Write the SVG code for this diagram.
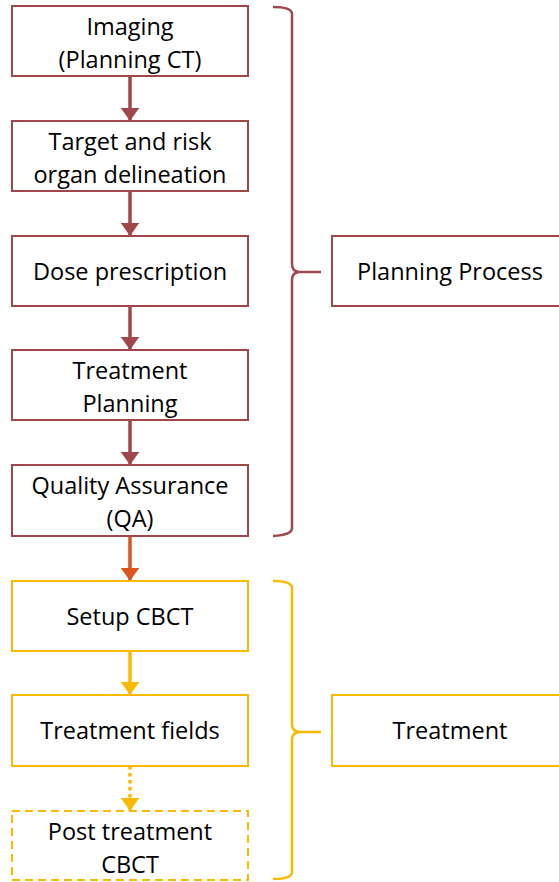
<svg xmlns="http://www.w3.org/2000/svg" width="559" height="882" viewBox="0 0 559 882">
<style>
.box{fill:#fff;stroke-width:2}
.r{stroke:#A0474C}
.y{stroke:#FBBA00}
.t{font-family:"Open Sans","Liberation Sans",sans-serif;font-size:23.5px;fill:#000;text-anchor:middle}
.c{fill:none;stroke-width:3.5}
.br{fill:none;stroke-width:2.5}
</style>
<defs>
<marker id="ar" viewBox="0 0 10 14" refX="10" refY="7" markerWidth="3.7" markerHeight="5.4" orient="auto" markerUnits="strokeWidth"><path d="M0,0L10,7L0,14z" fill="#A0474C"/></marker>
<marker id="ao" viewBox="0 0 10 14" refX="10" refY="7" markerWidth="3.7" markerHeight="5.4" orient="auto" markerUnits="strokeWidth"><path d="M0,0L10,7L0,14z" fill="#DA541E"/></marker>
<marker id="ay" viewBox="0 0 10 14" refX="10" refY="7" markerWidth="3.7" markerHeight="5.4" orient="auto" markerUnits="strokeWidth"><path d="M0,0L10,7L0,14z" fill="#FBBA00"/></marker>
</defs>
<g id="connectors">
<path class="c" stroke="#A0474C" d="M130,77V121" marker-end="url(#ar)"/>
<path class="c" stroke="#A0474C" d="M130,192V236" marker-end="url(#ar)"/>
<path class="c" stroke="#A0474C" d="M130,306V350" marker-end="url(#ar)"/>
<path class="c" stroke="#A0474C" d="M130,421V465" marker-end="url(#ar)"/>
<path class="c" stroke="#DA541E" d="M130,536V581" marker-end="url(#ao)"/>
<path class="c" stroke="#FBBA00" d="M130,651V695" marker-end="url(#ay)"/>
<path class="c" stroke="#FBBA00" stroke-dasharray="3.5 3.5" d="M130,766V811" marker-end="url(#ay)"/>
</g>
<g id="brace-planning">
<path class="br r" d="M273,7Q292,7 292,14V264Q292,272 300,272H321M300,272Q292,272 292,280V528Q292,535 273,536"/>
</g>
<g id="brace-treatment">
<path class="br y" d="M273,581Q292,581 292,588V724Q292,732 300,732H321M300,732Q292,732 292,740V872Q292,879 273,879"/>
</g>
<g id="n1"><rect class="box r" x="12" y="6" width="236" height="70"/><text class="t" x="130" y="35">Imaging</text><text class="t" x="130" y="68">(Planning CT)</text></g>
<g id="n2"><rect class="box r" x="12" y="121" width="236" height="70"/><text class="t" x="130" y="150">Target and risk</text><text class="t" x="130" y="183">organ delineation</text></g>
<g id="n3"><rect class="box r" x="12" y="236" width="236" height="70"/><text class="t" x="130" y="280">Dose prescription</text></g>
<g id="n4"><rect class="box r" x="12" y="350" width="236" height="70"/><text class="t" x="130" y="379">Treatment</text><text class="t" x="130" y="412">Planning</text></g>
<g id="n5"><rect class="box r" x="12" y="465" width="236" height="71"/><text class="t" x="130" y="494">Quality Assurance</text><text class="t" x="130" y="527">(QA)</text></g>
<g id="n6"><rect class="box y" x="12" y="581" width="236" height="70"/><text class="t" x="130" y="625">Setup CBCT</text></g>
<g id="n7"><rect class="box y" x="12" y="695" width="236" height="71"/><text class="t" x="130" y="739">Treatment fields</text></g>
<g id="n8"><rect class="box y" stroke-dasharray="8 5" x="12" y="811" width="236" height="69"/><text class="t" x="130" y="840">Post treatment</text><text class="t" x="130" y="873">CBCT</text></g>
<g id="planning-process"><rect class="box r" x="332" y="236" width="240" height="70"/><text class="t" x="450" y="280">Planning Process</text></g>
<g id="treatment"><rect class="box y" x="332" y="695" width="240" height="71"/><text class="t" x="450" y="739">Treatment</text></g>
</svg>
